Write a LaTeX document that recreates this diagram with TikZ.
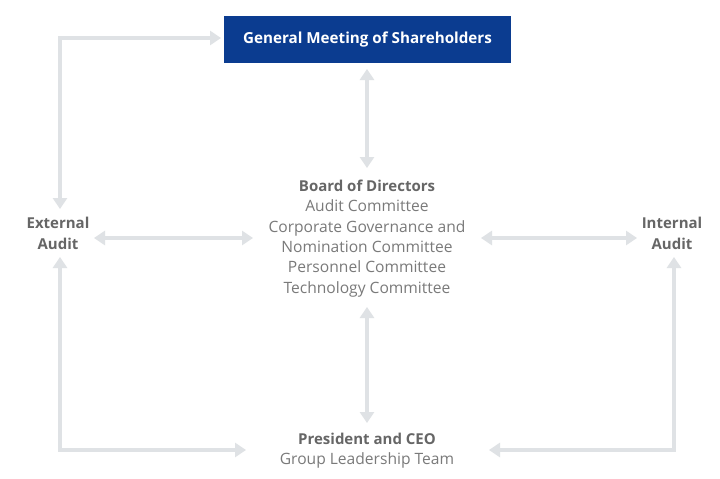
\documentclass[tikz,border=0pt]{standalone}
\usepackage{fontspec}
\setmainfont{Open Sans}
\usetikzlibrary{arrows.meta}
\definecolor{gmblue}{HTML}{0B3C90}
\definecolor{arrgray}{HTML}{DFE2E5}
\definecolor{txtdark}{HTML}{666666}
\definecolor{txtlight}{HTML}{7A7A7A}
\begin{document}
\begin{tikzpicture}[x=1pt,y=-1pt,
  arr/.style={draw=arrgray,line width=4pt,{Triangle[width=14pt,length=11pt]}-{Triangle[width=14pt,length=11pt]}},
  lbl/.style={align=center,font=\fontsize{15.6}{20.3}\selectfont,text=txtlight,inner sep=0pt},
  hd/.style={align=center,inner sep=0pt,text=txtdark,font=\fontsize{15}{20.3}\selectfont\bfseries}]
\useasboundingbox[fill=white] (0,0) rectangle (720,479);
\node[fill=gmblue,minimum width=287pt,minimum height=47pt,inner sep=0pt,text=white,font=\fontsize{15.2}{18}\selectfont\bfseries] (gm) at (367.5,39.5) {General Meeting of Shareholders};
\node[lbl] (bod) at (367,238.5) {{\fontsize{15}{20.3}\selectfont\bfseries\color{txtdark}Board of Directors}\\Audit Committee\\Corporate Governance and\\Nomination Committee\\Personnel Committee\\Technology Committee};
\node[hd] (ext) at (58,233.5) {External\\Audit};
\node[hd] (int) at (672,233.5) {Internal\\Audit};
\node[lbl] (ceo) at (367,451) {{\fontsize{15}{20.3}\selectfont\bfseries\color{txtdark}President and CEO}\\Group Leadership Team};
% connector end points
\coordinate (gmS) at (367,69);
\coordinate (bodN) at (367,168);
\coordinate (bodS) at (367,307);
\coordinate (ceoN) at (367,423);
\coordinate (extE) at (94,238);
\coordinate (bodW) at (253,238);
\coordinate (bodE) at (481,238);
\coordinate (intW) at (637,238);
\coordinate (extN) at (60,209);
\coordinate (gmW) at (221,38);
\coordinate (extS) at (60,257);
\coordinate (ceoW) at (246,450);
\coordinate (intS) at (674,257);
\coordinate (ceoE) at (489,450);
\draw[arr] (gmS) -- (bodN);
\draw[arr] (bodS) -- (ceoN);
\draw[arr] (extE) -- (bodW);
\draw[arr] (bodE) -- (intW);
\draw[arr] (extN) |- (gmW);
\draw[arr] (extS) |- (ceoW);
\draw[arr] (intS) |- (ceoE);
\end{tikzpicture}
\end{document}
